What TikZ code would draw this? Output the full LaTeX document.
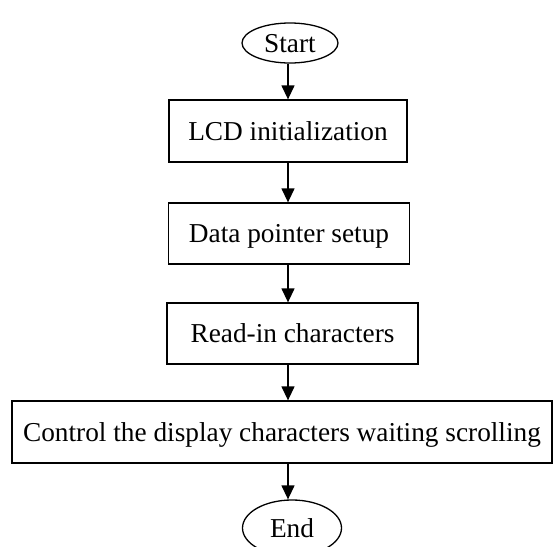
\documentclass[tikz,border=0pt]{standalone}
\usepackage{fontspec}
\setmainfont{Liberation Serif}
\usetikzlibrary{shapes.geometric,arrows.meta}
\begin{document}
\begin{tikzpicture}[x=1pt,y=-1pt,
  procbox/.style={draw,line width=1.3pt,rectangle,inner sep=0pt,text height=22pt,text depth=4pt,font=\fontsize{27.3}{30}\selectfont},
  term/.style={draw,line width=1.3pt,ellipse,inner sep=0pt,text height=22pt,text depth=4pt,font=\fontsize{27.3}{30}\selectfont},
  flow/.style={line width=1.3pt,-{Triangle[length=14pt,width=13pt]}}]
\useasboundingbox (0,0) rectangle (554,546);
\node[term,minimum width=96pt,minimum height=40pt] (start) at (290,43) {Start};
\node[procbox,minimum width=238pt,minimum height=62pt] (b1) at (288,131) {LCD initialization};
\node[procbox,minimum width=241pt,minimum height=61pt] (b2) at (289,233.5) {Data pointer setup};
\node[procbox,minimum width=251pt,minimum height=61pt] (b3) at (292.5,333.5) {Read-in characters};
\node[procbox,minimum width=540pt,minimum height=62pt] (b4) at (282,432) {Control the display characters waiting scrolling};
\node[term,minimum width=99pt,minimum height=56pt] (end) at (292,528) {End};
\coordinate (ax) at (288,0);
\draw[flow] (start.south -| ax) -- (ax |- b1.north);
\draw[flow] (b1.south -| ax) -- (ax |- b2.north);
\draw[flow] (b2.south -| ax) -- (ax |- b3.north);
\draw[flow] (b3.south -| ax) -- (ax |- b4.north);
\draw[flow] (b4.south -| ax) -- (ax |- end.north);
\end{tikzpicture}
\end{document}
